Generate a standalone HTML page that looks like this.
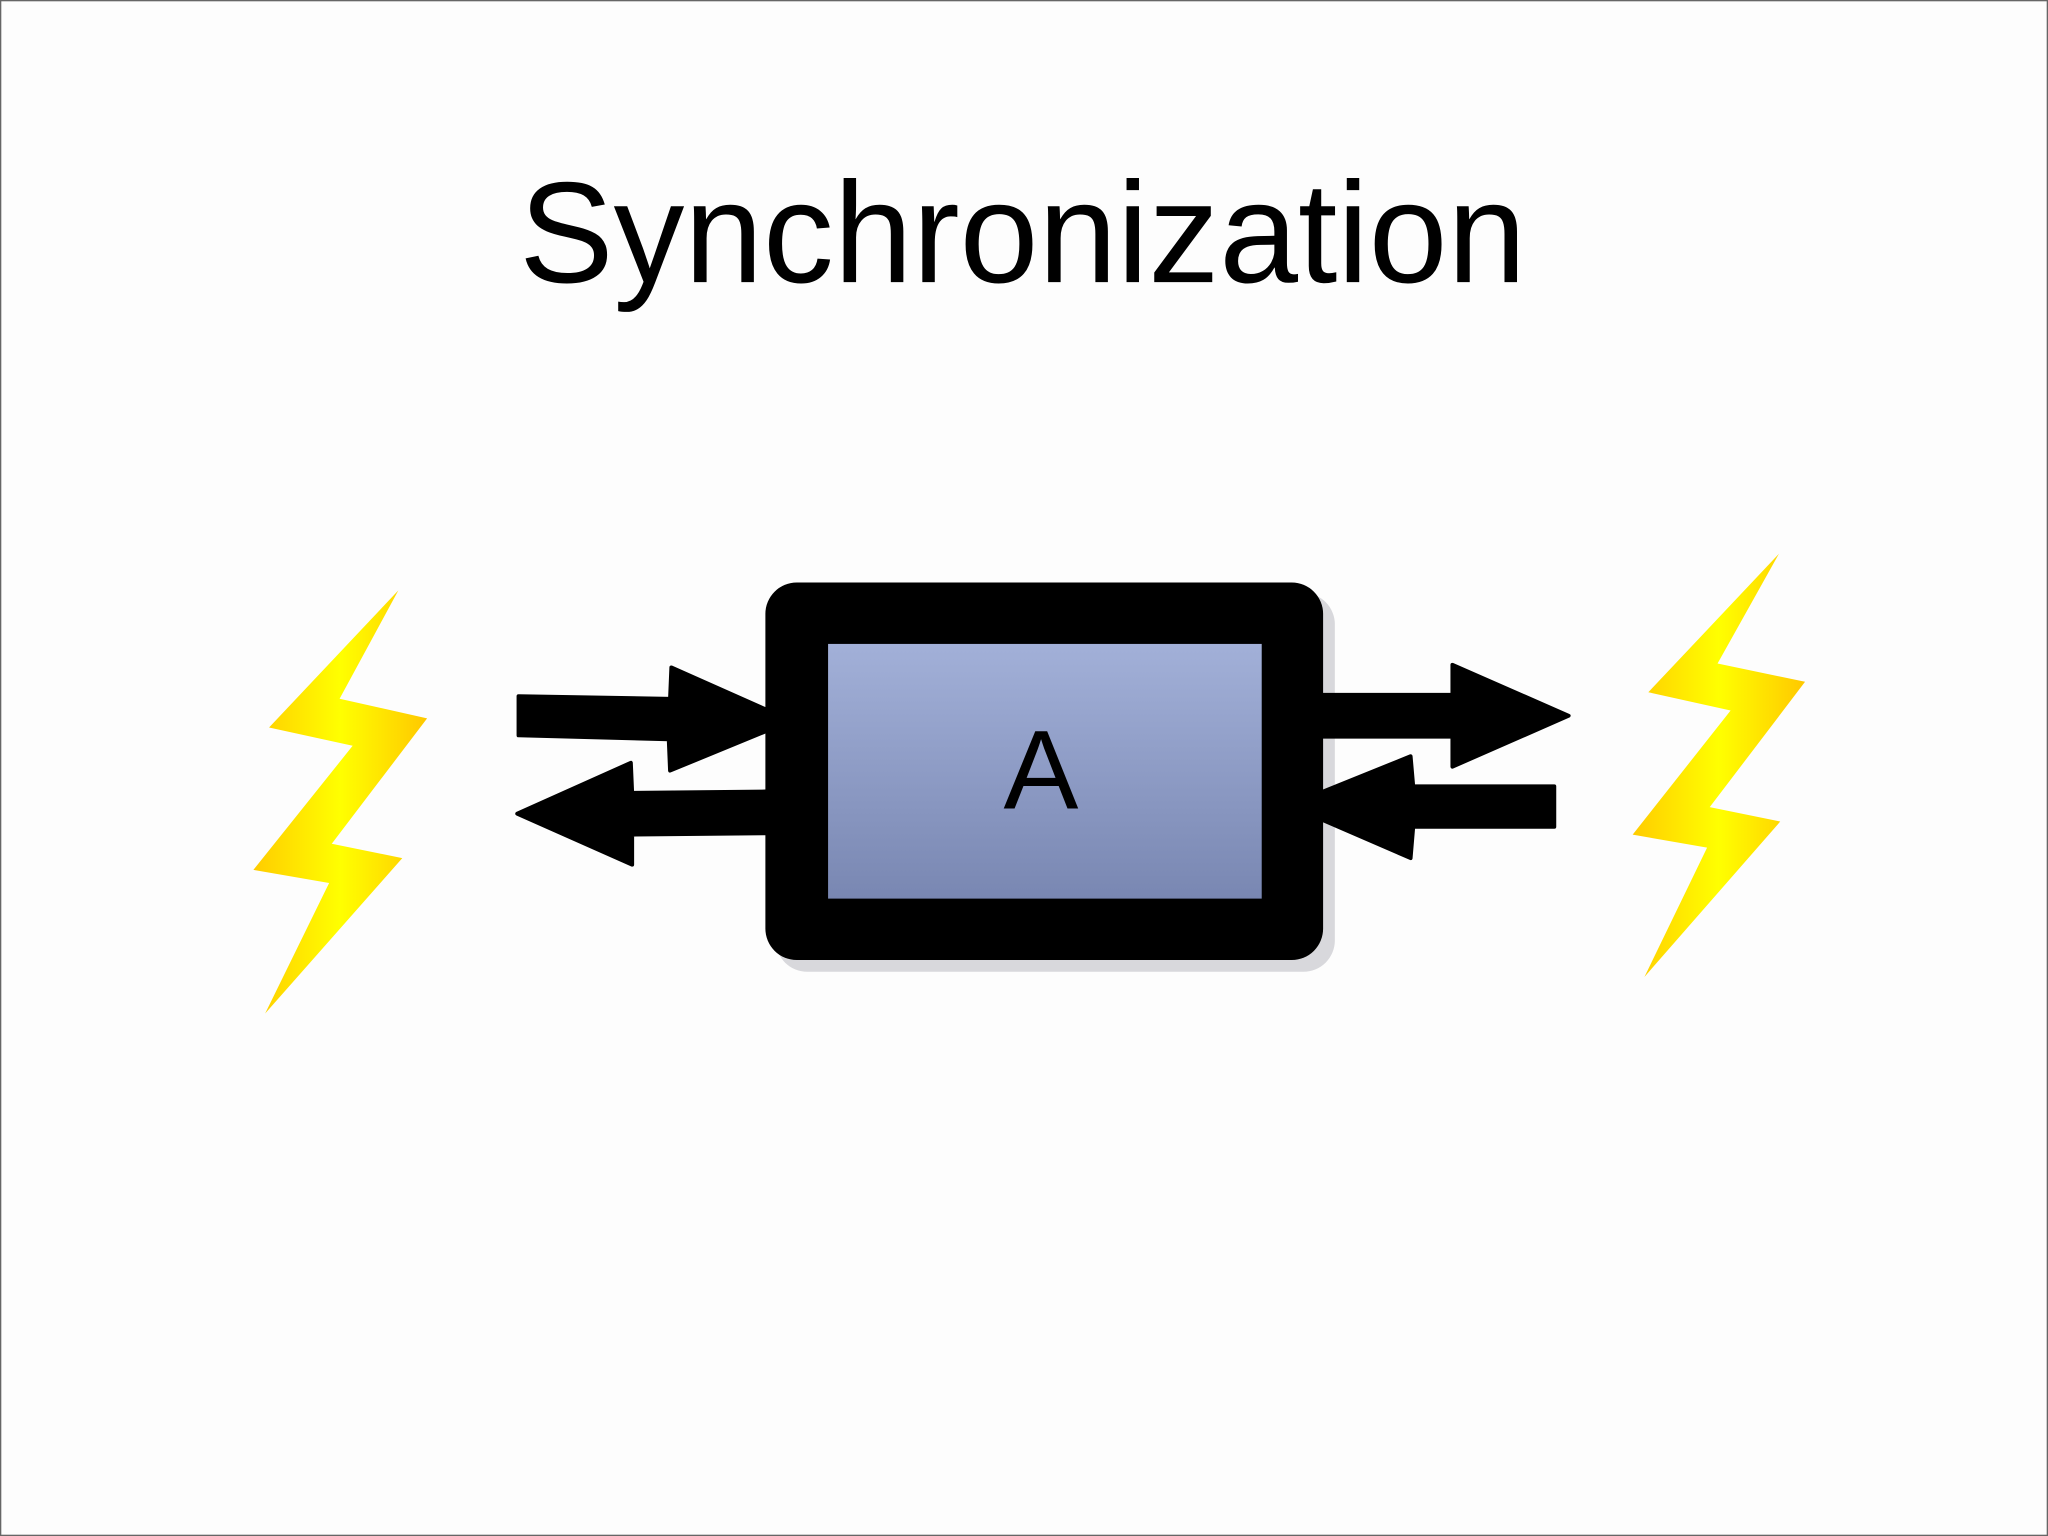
<!DOCTYPE html>
<html><head><meta charset="utf-8"><style>
html,body{margin:0;padding:0;background:#fff;}
svg{display:block;}
</style></head><body>
<svg width="2048" height="1536" viewBox="0 0 1568 1176" xmlns="http://www.w3.org/2000/svg">
<defs>
<linearGradient id="box" x1="0" y1="0" x2="0" y2="1">
<stop offset="0" stop-color="#a2b0d8"/><stop offset="1" stop-color="#7987b2"/>
</linearGradient>
<linearGradient id="bolt" x1="0" y1="0" x2="1" y2="0">
<stop offset="0" stop-color="#ffcc00"/><stop offset="0.5" stop-color="#ffff00"/><stop offset="1" stop-color="#ffc800"/>
</linearGradient>
</defs>
<rect x="0.5" y="0.5" width="1567" height="1175" fill="#fdfdfd" stroke="#666" stroke-width="1"/>
<text x="783" y="216" font-family="Liberation Sans, sans-serif" font-size="110" text-anchor="middle" textLength="771" lengthAdjust="spacingAndGlyphs" fill="#000">Synchronization</text>
<rect x="594" y="454" width="428" height="290" rx="24" fill="#d8d8dc"/>
<rect x="586" y="446" width="427" height="289" rx="24" fill="#000"/>
<rect x="634" y="493" width="332" height="195" fill="url(#box)"/>
<text x="797" y="619" font-family="Liberation Sans, sans-serif" font-size="86" text-anchor="middle" fill="#000">A</text>
<polygon points="397,533 513,535 514,511 586,543 586,560 513,590 512,566 397,563" fill="#000" stroke="#000" stroke-width="3" stroke-linejoin="round"/>
<polygon points="396,623 483,584 484,607 586,606 586,638 484,639 484,662" fill="#000" stroke="#000" stroke-width="3" stroke-linejoin="round"/>
<polygon points="1013,532 1112,532 1112,509 1201,548 1112,587 1112,564 1013,564" fill="#000" stroke="#000" stroke-width="3" stroke-linejoin="round"/>
<polygon points="1013,606 1080,579 1082,602 1190,602 1190,633 1082,633 1080,657 1013,628" fill="#000" stroke="#000" stroke-width="3" stroke-linejoin="round"/>
<polygon points="305,452 206,557 270,571 194,666 252,676 203,776 308,657 254,646 327,550 260,535" fill="url(#bolt)"/>
<polygon points="1362,424 1262,530 1325,544 1250,639 1307,649 1259,748 1363,629 1309,618 1382,522 1315,508" fill="url(#bolt)"/>
</svg>
</body></html>
